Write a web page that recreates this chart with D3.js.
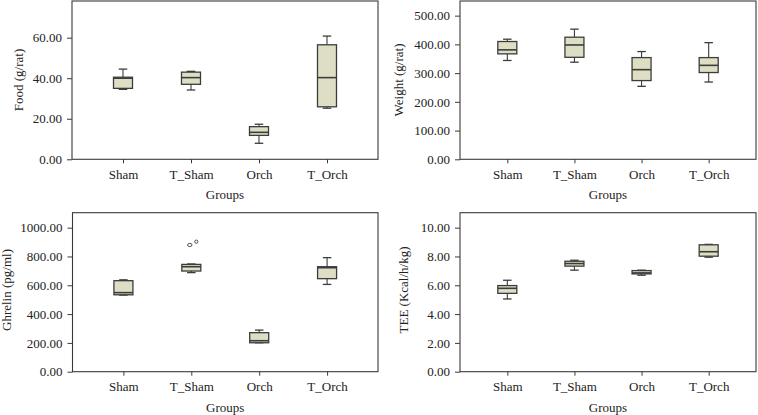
<!DOCTYPE html>
<html><head><meta charset="utf-8">
<script src="https://cdn.jsdelivr.net/npm/d3@7"></script>
<style>body{margin:0;background:#fff}svg{display:block}</style>
</head><body>
<script>
const categories = ["Sham", "T_Sham", "Orch", "T_Orch"];
// [min, q1, median, q3, max]
const foodStats = [[34.5,35.0,40.0,40.5,44.5],[34.2,37.0,40.3,43.0,43.4],[7.9,11.8,13.3,16.1,17.3],[25.2,25.9,40.3,56.5,60.8]];
const weightStats = [[344,367,381,410,418],[338,355,398,425,453],[254,274,312,354,375],[269,302,327,354,406]];
const ghrelinStats = [[532,534,549,632,638],[688,699,729,745,748],[201,201,215,271,289],[606,646,722,729,792]];
const ghrelinOutliers = [[],[880,903],[],[]];
const teeStats = [[5.05,5.44,5.79,5.98,6.35],[7.05,7.33,7.51,7.67,7.74],[6.70,6.79,6.86,7.02,7.05],[7.95,8.02,8.33,8.81,8.84]];
const foodTicks = [0,20,40,60];
const weightTicks = [0,100,200,300,400,500];
const ghrelinTicks = [0,200,400,600,800,1000];
const teeTicks = [0,2,4,6,8,10];
const yTitles = ["Food (g/rat)", "Weight (g/rat)", "Ghrelin (pg/ml)", "TEE (Kcal/h/kg)"];
const xTitle = "Groups";

const panels = [
  {stats: foodStats, out: [[],[],[],[]], ticks: foodTicks, ymax: 78.1, title: yTitles[0], x0: 72, x1: 378, y0: 1, y1: 159.3, pad: 0.75, tx: 20, ty: 80},
  {stats: weightStats, out: [[],[],[],[]], ticks: weightTicks, ymax: 551, title: yTitles[1], x0: 460, x1: 756, y0: 1, y1: 159.3, pad: 0.705, tx: 400, ty: 80},
  {stats: ghrelinStats, out: ghrelinOutliers, ticks: ghrelinTicks, ymax: 1104, title: yTitles[2], x0: 72.5, x1: 378, y0: 212.7, y1: 371.7, pad: 0.75, tx: 8, ty: 290},
  {stats: teeStats, out: [[],[],[],[]], ticks: teeTicks, ymax: 11.04, title: yTitles[3], x0: 460, x1: 756, y0: 212.7, y1: 371.7, pad: 0.705, tx: 405, ty: 290}
];

const W = 758, H = 415;
const svg = d3.select("body").append("svg").attr("width", W).attr("height", H);
const FONT = "'Liberation Serif', 'DejaVu Serif', serif";
const frameColor = "#3a3a3a";
const boxFill = "#dedec5";
const boxStroke = "#3c3c3c";
const fmt = d3.format(".2f");

panels.forEach(p => {
  const g = svg.append("g");
  const x = d3.scalePoint().domain(categories).range([p.x0, p.x1]).padding(p.pad);
  const y = d3.scaleLinear().domain([0, p.ymax]).range([p.y1, p.y0]);

  // frame
  g.append("rect").attr("x", p.x0).attr("y", p.y0).attr("width", p.x1 - p.x0).attr("height", p.y1 - p.y0)
    .attr("fill", "none").attr("stroke", frameColor).attr("stroke-width", 1.1);

  // y axis
  const ya = g.append("g").attr("transform", `translate(${p.x0},0)`)
    .call(d3.axisLeft(y).tickValues(p.ticks).tickFormat(fmt).tickSize(5).tickPadding(5));
  ya.select(".domain").remove();
  ya.selectAll("line").attr("stroke", frameColor);
  ya.selectAll("text").attr("font-family", FONT).attr("font-size", 13).attr("fill", "#222");

  // x axis
  const xa = g.append("g").attr("transform", `translate(0,${p.y1})`)
    .call(d3.axisBottom(x).tickSize(4).tickPadding(6));
  xa.select(".domain").remove();
  xa.selectAll("line").attr("stroke", frameColor);
  xa.selectAll("text").attr("font-family", FONT).attr("font-size", 13).attr("fill", "#222");

  // titles
  g.append("text").attr("x", (p.x0 + p.x1) / 2).attr("y", p.y1 + 40)
    .attr("text-anchor", "middle").attr("font-family", FONT).attr("font-size", 13).attr("fill", "#222").text(xTitle);
  g.append("text").attr("transform", `translate(${p.tx},${p.ty}) rotate(-90)`)
    .attr("text-anchor", "middle").attr("dominant-baseline", "middle")
    .attr("font-family", FONT).attr("font-size", 13).attr("fill", "#222").text(p.title);

  const bw = 19, cw = 8.5;
  p.stats.forEach((s, i) => {
    const cx = x(categories[i]);
    const [mn, q1, md, q3, mx] = s;
    const bg = g.append("g").attr("stroke", boxStroke);
    // whiskers
    bg.append("line").attr("x1", cx).attr("x2", cx).attr("y1", y(mx)).attr("y2", y(q3)).attr("stroke-width", 1.1);
    bg.append("line").attr("x1", cx).attr("x2", cx).attr("y1", y(q1)).attr("y2", y(mn)).attr("stroke-width", 1.1);
    bg.append("line").attr("x1", cx - cw / 2).attr("x2", cx + cw / 2).attr("y1", y(mx)).attr("y2", y(mx)).attr("stroke-width", 1.3);
    bg.append("line").attr("x1", cx - cw / 2).attr("x2", cx + cw / 2).attr("y1", y(mn)).attr("y2", y(mn)).attr("stroke-width", 1.3);
    // box
    bg.append("rect").attr("x", cx - bw / 2).attr("y", y(q3)).attr("width", bw).attr("height", Math.max(1, y(q1) - y(q3)))
      .attr("fill", boxFill).attr("stroke-width", 1.3);
    // median
    bg.append("line").attr("x1", cx - bw / 2).attr("x2", cx + bw / 2).attr("y1", y(md)).attr("y2", y(md)).attr("stroke-width", 1.6);
    // outliers
    p.out[i].forEach((v, k) => {
      bg.append("ellipse").attr("cx", cx - 1.5 + k * 6.5).attr("cy", y(v)).attr("rx", k === 0 ? 2.2 : 1.6).attr("ry", k === 0 ? 1.6 : 1.6)
        .attr("fill", "none").attr("stroke-width", 0.9);
    });
  });
});
</script>
</body></html>
